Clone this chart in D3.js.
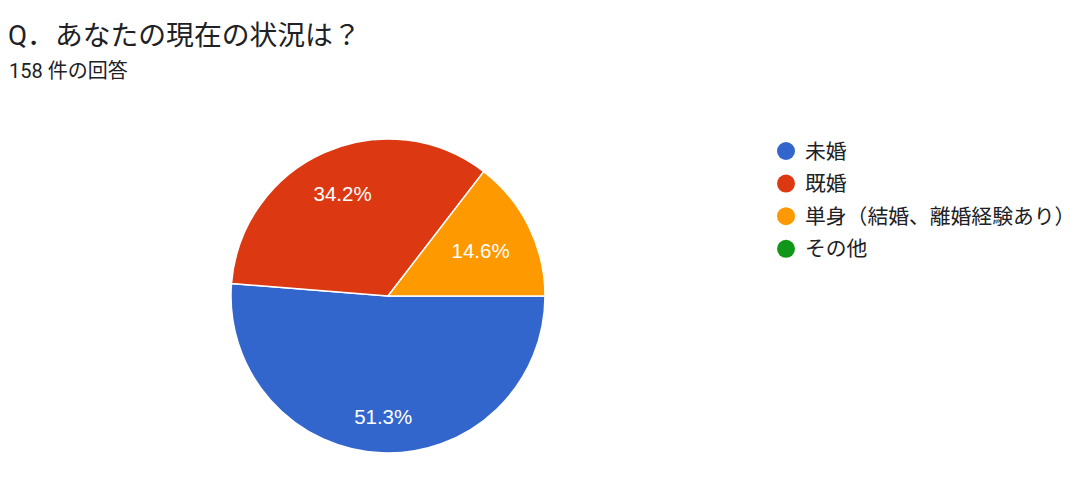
<!DOCTYPE html>
<html>
<head>
<meta charset="utf-8">
<script src="https://cdn.jsdelivr.net/npm/d3@7/dist/d3.min.js"></script>
<style>
  html, body { margin: 0; padding: 0; background: #ffffff; }
  svg { display: block; }
</style>
</head>
<body>
<svg id="chart" width="1079" height="477"></svg>
<script>
const titleText = "Q．あなたの現在の状況は？";
const subtitleText = "158 件の回答";
const categories = ["未婚", "既婚", "単身（結婚、離婚経験あり）", "その他"];
const counts = [81, 54, 23, 0];
const colors = ["#3366cc", "#dc3912", "#ff9900", "#109618"];

const W = 1079, H = 477;
const svg = d3.select("#chart");
const jpFont = "Roboto, 'Noto Sans CJK JP', 'Noto Sans', sans-serif";
const numFont = "'Liberation Sans', Arial, sans-serif";

svg.append("rect").attr("width", W).attr("height", H).attr("fill", "#fff");

svg.append("text")
  .attr("x", 8).attr("y", 45)
  .attr("font-family", jpFont)
  .attr("font-size", 27.8)
  .attr("fill", "#202124")
  .text(titleText);

svg.append("text")
  .attr("x", 9).attr("y", 78)
  .attr("font-family", jpFont)
  .attr("font-size", 20)
  .attr("fill", "#202124")
  .text(subtitleText);

const data = categories.map((c, i) => ({ name: c, value: counts[i], color: colors[i] }));
const total = d3.sum(counts);

const cx = 388, cy = 296, r = 157;
const pie = d3.pie().sort(null).value(d => d.value)
  .startAngle(Math.PI / 2).endAngle(Math.PI / 2 + 2 * Math.PI);
const arcs = pie(data);
const arc = d3.arc().innerRadius(0).outerRadius(r);

const g = svg.append("g").attr("transform", `translate(${cx},${cy})`);
g.selectAll("path.slice")
  .data(arcs.filter(d => d.value > 0))
  .join("path")
  .attr("class", "slice")
  .attr("d", arc)
  .attr("fill", d => d.data.color)
  .attr("stroke", "#ffffff")
  .attr("stroke-width", 1.5);

const labelFs = 20.5;
const Rfar = 0.845 * r;
const fmt = d3.format(".1f");
arcs.filter(d => d.value > 0).forEach(d => {
  const t = g.append("text")
    .attr("font-family", numFont)
    .attr("font-size", labelFs)
    .attr("fill", "#ffffff")
    .attr("text-anchor", "middle")
    .text(fmt(d.value / total * 100) + "%");
  const w = t.node().getComputedTextLength();
  const h = 0.716 * labelFs;
  const a = (d.startAngle + d.endAngle) / 2;
  const ux = Math.sin(a), uy = -Math.cos(a);
  const b = Math.abs(ux) * w / 2 + Math.abs(uy) * h / 2;
  const c = (w * w + h * h) / 4 - Rfar * Rfar;
  const dist = -b + Math.sqrt(b * b - c);
  t.attr("x", dist * ux).attr("y", dist * uy + h / 2);
});

const legend = svg.append("g").attr("transform", "translate(786,151)");
const rows = legend.selectAll("g.row").data(data).join("g")
  .attr("class", "row")
  .attr("transform", (d, i) => `translate(0,${i * 32.6})`);
rows.append("circle").attr("r", 9).attr("fill", d => d.color);
rows.append("text")
  .attr("x", 19).attr("y", 0)
  .attr("dy", "0.36em")
  .attr("font-family", jpFont)
  .attr("font-size", 20.8)
  .attr("fill", "#202124")
  .text(d => d.name);
</script>
</body>
</html>
